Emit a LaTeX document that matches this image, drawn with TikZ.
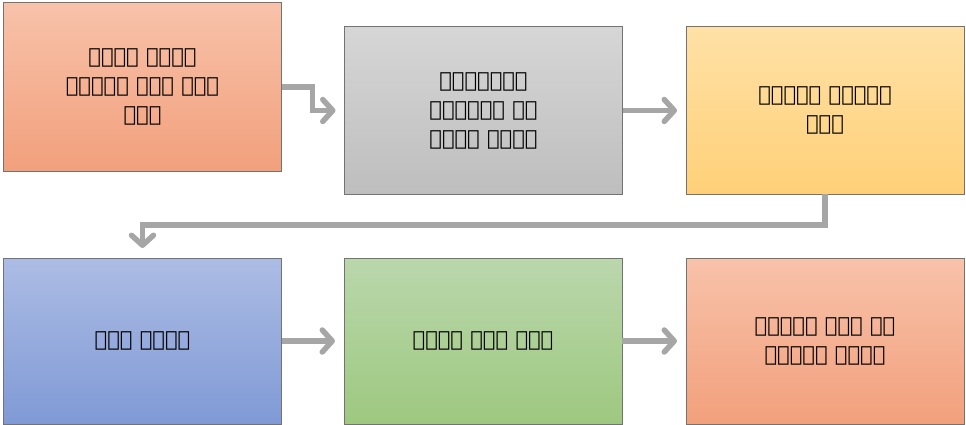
\documentclass[tikz,border=0pt]{standalone}
\usepackage{fontspec}
\usetikzlibrary{arrows.meta}
\newfontfamily\eth{DejaVu Sans}
\definecolor{lineGray}{RGB}{166,166,166}
\definecolor{edgeGray}{RGB}{115,115,115}
\definecolor{salTop}{RGB}{248,194,170}
\definecolor{salBot}{RGB}{242,160,124}
\definecolor{gryTop}{RGB}{214,214,214}
\definecolor{gryBot}{RGB}{190,190,190}
\definecolor{ylwTop}{RGB}{255,225,166}
\definecolor{ylwBot}{RGB}{255,208,120}
\definecolor{bluTop}{RGB}{172,188,228}
\definecolor{bluBot}{RGB}{128,154,214}
\definecolor{grnTop}{RGB}{186,215,172}
\definecolor{grnBot}{RGB}{158,200,128}
\tikzset{
  stagebox/.style={draw=edgeGray, line width=1pt, rectangle, inner sep=0pt, outer sep=0pt,
    minimum width=278pt, align=center, text=black,
    font=\eth\bfseries\fontsize{21}{29}\selectfont},
  conn/.style={draw=lineGray, line width=5.5pt,
    -{Straight Barb[length=10pt,width=22pt,round]}},
}
\begin{document}
\begin{tikzpicture}[x=1pt,y=-1pt]
\useasboundingbox (0,0) rectangle (966,425);
\node[stagebox, minimum height=168pt, top color=salTop, bottom color=salBot] (b1) at (142.5,87)
  {ለተከላ የሚሆን\\የአካባቢ ወይም የቦታ\\መረጣ};
\node[stagebox, minimum height=167pt, top color=gryTop, bottom color=gryBot] (b2) at (483.5,110.5)
  {ቴክኖሎጂውን\\ማስተዋወቅ እና\\ፍላጎት መፍጠር};
\node[stagebox, minimum height=167pt, top color=ylwTop, bottom color=ylwBot] (b3) at (825,110.5)
  {የጉድጓድ ቴክኒካዊ\\ዳሰሳ};
\node[stagebox, minimum height=166pt, top color=bluTop, bottom color=bluBot] (b4) at (142.5,341)
  {ፈንድ ማግኘት};
\node[stagebox, minimum height=166pt, top color=grnTop, bottom color=grnBot] (b5) at (483,341)
  {የገመድ ፓምፕ ተከላ};
\node[stagebox, minimum height=166pt, top color=salTop, bottom color=salBot] (b6) at (825,341)
  {አጠቃቀም ጥገና እና\\የክትትል ስራዎች};
\draw[conn, shorten >=9pt] (b1.east) -- ++(31,0) |- (b2.west);
\draw[conn, shorten >=9pt] (b2.east) -- (b3.west);
\draw[conn, shorten >=10pt] (b3.south) -- ++(0,31) -| (b4.north);
\draw[conn, shorten >=9pt] (b4.east) -- (b5.west);
\draw[conn, shorten >=9pt] (b5.east) -- (b6.west);
\end{tikzpicture}
\end{document}
